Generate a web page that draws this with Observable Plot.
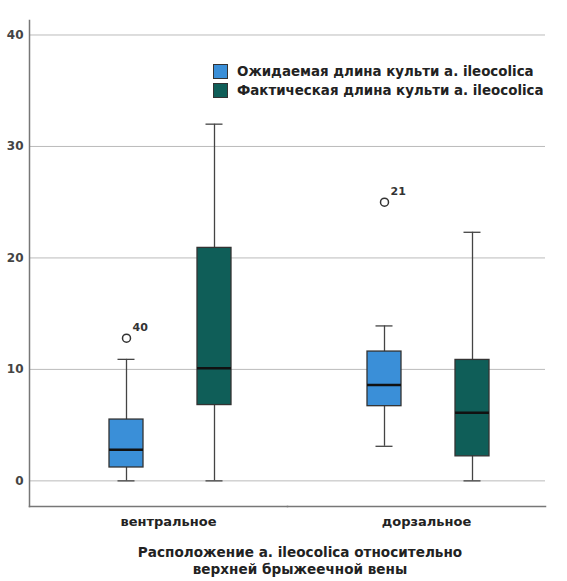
<!DOCTYPE html>
<html><head><meta charset="utf-8">
<script src="https://cdn.jsdelivr.net/npm/d3@7"></script>
<script src="https://cdn.jsdelivr.net/npm/@observablehq/plot@0.6"></script>
<style>
body{margin:0;background:#fff;font-family:"DejaVu Sans",sans-serif;}
#wrap{position:relative;width:567px;height:581px;overflow:hidden;}
#legend{position:absolute;left:213px;top:62px;font-weight:bold;font-size:13.4px;color:#222;}
.row{display:flex;align-items:center;height:19px;white-space:nowrap;}
.sw{width:13px;height:13px;border:1px solid #333;margin-right:9px;flex:none;}
#caption{position:absolute;top:544px;left:0;width:600px;text-align:center;font-weight:bold;font-size:13.6px;line-height:17px;color:#222;}
</style>
</head><body>
<div id="wrap"><div id="chart"></div><div id="legend"></div><div id="caption"></div></div>
<script>
const categories = ["вентральное", "дорзальное"];
const series = ["Ожидаемая длина культи а. ileocolica", "Фактическая длина культи а. ileocolica"];
const colors = ["#3a8fd8", "#0f5e58"];
const yTicks = [0, 10, 20, 30, 40];
const axisTitle = ["Расположение а. ileocolica относительно", "верхней брыжеечной вены"];

// per series, per category
const whiskerLow  = [[0, 3.1], [0, 0]];
const q1          = [[1.2, 6.7], [6.8, 2.2]];
const median      = [[2.8, 8.6], [10.1, 6.1]];
const q3          = [[5.5, 11.6], [20.9, 10.85]];
const whiskerHigh = [[10.9, 13.9], [32.0, 22.3]];

const outlierCategory = ["вентральное", "дорзальное"];
const outlierSeries = [0, 0];
const outlierValue = [12.8, 25.0];
const outlierLabel = ["40", "21"];

const rows = series.flatMap((s, si) => categories.map((c, ci) => ({
  series: s, category: c,
  low: whiskerLow[si][ci], q1: q1[si][ci], median: median[si][ci], q3: q3[si][ci], high: whiskerHigh[si][ci]
})));
const outliers = outlierValue.map((v, i) => ({
  category: outlierCategory[i], series: series[outlierSeries[i]], value: v, label: outlierLabel[i]
}));

const plot = Plot.plot({
  width: 567, height: 535,
  marginLeft: 28, marginRight: 22, marginTop: 20, marginBottom: 29,
  style: {fontFamily: "DejaVu Sans, sans-serif", fontSize: "12px", color: "#333", background: "#fff"},
  fx: {domain: categories, padding: 0, label: null},
  x: {domain: series, paddingInner: 0.616, paddingOuter: 0.771, align: 0.586, axis: null},
  y: {domain: [-2.3, 41.3], label: null},
  color: {domain: series, range: colors},
  marks: [
    Plot.gridY(yTicks, {stroke: "#bbb", strokeOpacity: 1}),
    Plot.axisY(yTicks, {tickSize: 0, tickPadding: 6, fill: "#444", fontWeight: "bold", label: null}),
    Plot.frame({anchor: "left", facetAnchor: "left", stroke: "#777", strokeWidth: 1.5}),
    Plot.axisFx({anchor: "bottom", tickSize: 0, tickPadding: 10, dx: 10, fill: "#222", fontWeight: "bold", fontSize: 13, label: null}),
    Plot.frame({anchor: "bottom", stroke: "#777", strokeWidth: 1.5}),
    Plot.ruleX(rows, {fx: "category", x: "series", y1: "low", y2: "high", stroke: "#444", strokeWidth: 1.3}),
    Plot.tickY(rows, {fx: "category", x: "series", y: "low", insetLeft: 8.5, insetRight: 8.5, stroke: "#444", strokeWidth: 1.3}),
    Plot.tickY(rows, {fx: "category", x: "series", y: "high", insetLeft: 8.5, insetRight: 8.5, stroke: "#444", strokeWidth: 1.3}),
    Plot.barY(rows, {fx: "category", x: "series", y1: "q1", y2: "q3", fill: "series", stroke: "#333", strokeWidth: 1.3}),
    Plot.tickY(rows, {fx: "category", x: "series", y: "median", stroke: "#111", strokeWidth: 2.5}),
    Plot.dot(outliers, {fx: "category", x: "series", y: "value", r: 4, stroke: "#333", strokeWidth: 1.5, fill: "white"}),
    Plot.text(outliers, {fx: "category", x: "series", y: "value", text: "label", dx: 6, dy: -11, textAnchor: "start", fontWeight: "bold", fontSize: 11, fill: "#333"})
  ]
});
document.getElementById("chart").append(plot);

const legend = document.getElementById("legend");
series.forEach((s, i) => {
  const row = document.createElement("div");
  row.className = "row";
  const sw = document.createElement("div");
  sw.className = "sw"; sw.style.background = colors[i];
  const t = document.createElement("span");
  t.textContent = s;
  row.append(sw, t);
  legend.append(row);
});
const cap = document.getElementById("caption");
axisTitle.forEach(l => { const d = document.createElement("div"); d.textContent = l; cap.append(d); });
</script>
</body></html>
